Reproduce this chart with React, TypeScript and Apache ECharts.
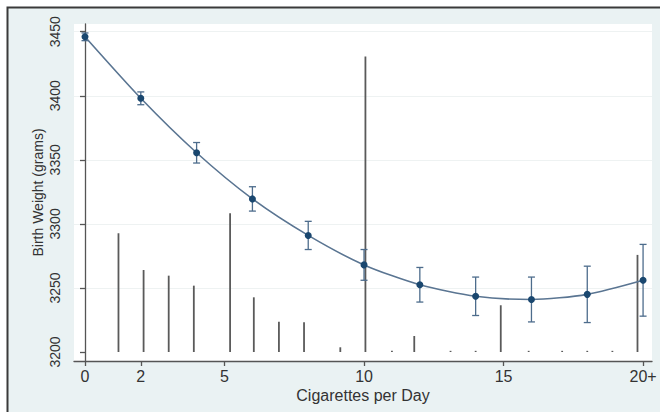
import React, { useEffect, useRef } from "react";
import * as echarts from "echarts";

const xValues = [0, 2, 4, 6, 8, 10, 12, 14, 16, 18, 20];
const meanWeight = [3446, 3398, 3355.5, 3319.5, 3291, 3268, 3252.5, 3243.5, 3241, 3245, 3256];
const ciLower = [3443, 3393, 3347.5, 3310, 3280, 3256, 3239, 3228.5, 3223.5, 3223, 3228];
const ciUpper = [3449, 3403, 3363.5, 3329, 3302, 3280, 3266, 3258.5, 3258.5, 3267, 3284];
const spikeX = [1.2, 2.1, 3, 3.9, 5.2, 6.05, 6.95, 7.85, 9.15, 10.05, 11, 11.8, 13.1, 14, 14.9, 15.9, 17.1, 18, 18.9, 19.8];
const spikeTop = [3292.7, 3264, 3259.6, 3251.8, 3308.3, 3242.7, 3223.7, 3223.2, 3203.7, 3430.7, 3200.6, 3212.5, 3200.8, 3200.8, 3236.5, 3200.5, 3200.5, 3200.6, 3200.5, 3275.8];
const spikeBase = 3200;
const xTickValues = [0, 2, 5, 10, 15, 20];
const yTickValues = [3200, 3250, 3300, 3350, 3400, 3450];
const yGridValues = [3250, 3300, 3350, 3400, 3450];

const FONT = "'Liberation Sans', Arial, sans-serif";

export default function App() {
  const ref = useRef<HTMLDivElement>(null);
  useEffect(() => {
    if (!ref.current) return;
    const chart = echarts.init(ref.current, null, { renderer: "svg" });
    const errColor = "#4d6c8c";
    chart.setOption({
      animation: false,
      backgroundColor: "#ffffff",
      graphic: [
        {
          type: "rect",
          z: -10,
          silent: true,
          shape: { x: 7.5, y: 7.5, width: 700, height: 500 },
          style: { fill: "#eaf2f3", stroke: "#3a3a3a", lineWidth: 2 },
        },
      ],
      grid: {
        left: 74,
        right: 8,
        top: 24,
        bottom: 51,
        show: true,
        backgroundColor: "#ffffff",
        borderWidth: 0,
      },
      xAxis: {
        type: "value",
        min: -0.394,
        max: 20.32,
        name: "Cigarettes per Day",
        nameLocation: "middle",
        nameMoveOverlap: false,
        nameGap: 26,
        nameTextStyle: { fontFamily: FONT, fontSize: 16, color: "#333" },
        axisLine: { show: true, lineStyle: { color: "#555", width: 1.3 } },
        axisTick: { show: true, length: 5, customValues: xTickValues, lineStyle: { color: "#555", width: 1.3 } },
        axisLabel: {
          customValues: xTickValues,
          margin: 7,
          fontFamily: FONT,
          fontSize: 16,
          color: "#333",
          formatter: (v: number) => (v === 20 ? "20+" : String(v)),
        },
        splitLine: { show: false },
      },
      yAxis: {
        type: "value",
        min: 3193,
        max: 3456,
        name: "Birth Weight (grams)",
        nameLocation: "middle",
        nameMoveOverlap: false,
        nameGap: 29,
        nameTextStyle: { fontFamily: FONT, fontSize: 14, color: "#333" },
        axisLine: { show: true, lineStyle: { color: "#555", width: 1.3 } },
        axisTick: { show: true, length: 5, customValues: yTickValues, lineStyle: { color: "#555", width: 1.3 } },
        axisLabel: {
          customValues: yTickValues,
          rotate: 90,
          margin: 12,
          fontFamily: FONT,
          fontSize: 14,
          color: "#333",
          formatter: (v: number) => String(v),
        },
        splitLine: { show: false },
      },
      series: [
        {
          type: "custom",
          name: "spikes",
          z: 1,
          data: spikeX.map((x, i) => [x, spikeBase, spikeTop[i]]),
          encode: { x: 0, y: [1, 2] },
          renderItem: (params: any, api: any) => {
            const x = api.value(0);
            const p0 = api.coord([x, api.value(1)]);
            const p1 = api.coord([x, api.value(2)]);
            const h = Math.max(p0[1] - p1[1], 1.2);
            return {
              type: "rect",
              shape: { x: p0[0] - 0.9, y: p0[1] - h, width: 1.8, height: h },
              style: { fill: "#5a5a5a" },
            };
          },
          markLine: {
            silent: true,
            symbol: "none",
            label: { show: false },
            lineStyle: { color: "#eef2f2", width: 1, type: "solid" },
            data: yGridValues.map((v) => ({ yAxis: v })),
            z: 0,
          },
        },
        {
          type: "custom",
          name: "ci",
          z: 2,
          data: xValues.map((x, i) => [x, ciLower[i], ciUpper[i]]),
          encode: { x: 0, y: [1, 2] },
          renderItem: (params: any, api: any) => {
            const x = api.value(0);
            const lo = api.coord([x, api.value(1)]);
            const hi = api.coord([x, api.value(2)]);
            const hw = 3.5;
            const st = { stroke: errColor, lineWidth: 1.3 };
            return {
              type: "group",
              children: [
                { type: "line", shape: { x1: lo[0], y1: lo[1], x2: hi[0], y2: hi[1] }, style: st },
                { type: "line", shape: { x1: lo[0] - hw, y1: lo[1], x2: lo[0] + hw, y2: lo[1] }, style: st },
                { type: "line", shape: { x1: hi[0] - hw, y1: hi[1], x2: hi[0] + hw, y2: hi[1] }, style: st },
              ],
            };
          },
        },
        {
          type: "line",
          name: "mean",
          z: 3,
          data: xValues.map((x, i) => [x, meanWeight[i]]),
          smooth: 0.25,
          symbol: "circle",
          symbolSize: 7,
          showSymbol: true,
          itemStyle: { color: "#1a476f", borderWidth: 0 },
          lineStyle: { color: "#5a7592", width: 1.6 },
        },
      ],
    });
    return () => chart.dispose();
  }, []);
  return (
    <div
      ref={ref}
      style={{ position: "absolute", left: 0, top: 0, width: 660, height: 412 }}
    />
  );
}
